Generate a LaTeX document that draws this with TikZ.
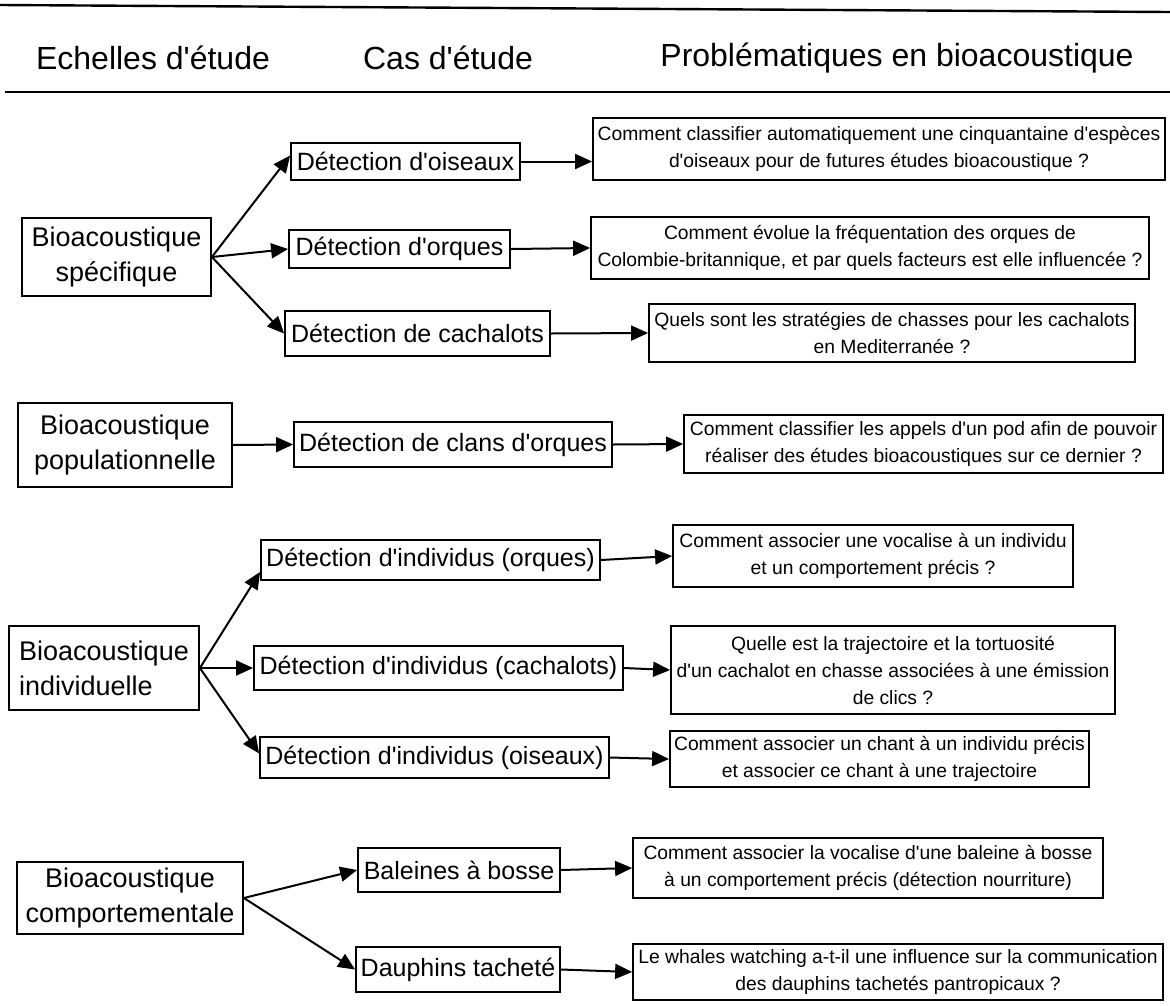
\documentclass[tikz,border=0pt]{standalone}
\usepackage{fontspec}
\newfontfamily\arialfont{Liberation Sans}
\usetikzlibrary{arrows.meta}

\tikzset{
  titre/.style={font=\arialfont\fontsize{32}{38}\selectfont, inner sep=0pt},
  echelle/.style={draw, line width=1.8pt, align=center, inner sep=0pt,
                  font=\arialfont\fontsize{27}{35}\selectfont},
  cas/.style={draw, line width=1.8pt, align=center, inner sep=0pt,
              font=\arialfont\fontsize{25}{30}\selectfont},
  question/.style={draw, line width=1.8pt, align=center, inner sep=0pt,
                   font=\arialfont\fontsize{19.3}{27}\selectfont},
  fleche/.style={-{Triangle[length=17pt,width=15pt]}, line width=2pt},
}

\begin{document}
\begin{tikzpicture}[x=1pt, y=-1pt]
    \useasboundingbox (0,0) rectangle (1170,1005);

    \draw[line width=2.4pt] (0,5) -- (1170,12);
    \draw[line width=2.4pt] (5,92) -- (1170,92);
    \node[titre] (tEchelles) at (153,58) {Echelles d'étude};
    \node[titre] (tCas) at (448,58) {Cas d'étude};
    \node[titre] (tProblemes) at (897,58) {Problématiques en bioacoustique};

    \node[echelle, minimum width=189, minimum height=78] (specifique) at (116.5,257)
        {Bioacoustique\\spécifique};
    \node[cas, minimum width=229, minimum height=37] (oiseaux) at (405.5,161.5)
        {Détection d'oiseaux};
    \node[cas, minimum width=221, minimum height=38] (orques) at (399.5,249)
        {Détection d'orques};
    \node[cas, minimum width=265, minimum height=45] (cachalots) at (417.5,333.5)
        {Détection de cachalots};
    \node[question, minimum width=572, minimum height=62] (qOiseaux) at (879,149)
        {Comment classifier automatiquement une cinquantaine d'espèces\\d'oiseaux pour de futures études bioacoustique ?};
    \node[question, minimum width=558, minimum height=62] (qOrques) at (870,248)
        {Comment évolue la fréquentation des orques de\\Colombie-britannique, et par quels facteurs est elle influencée ?};
    \node[question, minimum width=486, minimum height=58] (qCachalots) at (892,333)
        {Quels sont les stratégies de chasses pour les cachalots\\en Mediterranée ?};

    \node[echelle, minimum width=214, minimum height=84] (populationnelle) at (125,445)
        {Bioacoustique\\populationnelle};
    \node[cas, minimum width=318, minimum height=45] (clans) at (453,444.5)
        {Détection de clans d'orques};
    \node[question, minimum width=479, minimum height=58] (qClans) at (923.5,444)
        {Comment classifier les appels d'un pod afin de pouvoir\\réaliser des études bioacoustiques sur ce dernier ?};

    \node[echelle, align=left, minimum width=190, minimum height=84] (individuelle) at (104,668)
        {Bioacoustique\\individuelle};
    \node[cas, minimum width=339, minimum height=40] (indOrques) at (430.5,560)
        {Détection d'individus (orques)};
    \node[cas, minimum width=369, minimum height=44] (indCachalots) at (438.5,668)
        {Détection d'individus (cachalots)};
    \node[cas, minimum width=349, minimum height=41] (indOiseaux) at (434.5,757.5)
        {Détection d'individus (oiseaux)};
    \node[question, minimum width=400, minimum height=62] (qIndOrques) at (873,556)
        {Comment associer une vocalise à un individu\\et un comportement précis ?};
    \node[question, minimum width=444, minimum height=88] (qIndCachalots) at (893,670)
        {Quelle est la trajectoire et la tortuosité\\d'un cachalot en chasse associées à une émission\\de clics ?};
    \node[question, minimum width=419, minimum height=56] (qIndOiseaux) at (879.5,759)
        {Comment associer un chant à un individu précis\\et associer ce chant à une trajectoire};

    \node[echelle, minimum width=226, minimum height=72] (comportementale) at (130,898)
        {Bioacoustique\\comportementale};
    \node[cas, minimum width=202, minimum height=44] (baleines) at (459,870)
        {Baleines à bosse};
    \node[cas, minimum width=204, minimum height=45] (dauphins) at (458,969.5)
        {Dauphins tacheté};
    \node[question, minimum width=470, minimum height=60] (qBaleines) at (868,868)
        {Comment associer la vocalise d'une baleine à bosse\\à un comportement précis (détection nourriture)};
    \node[question, minimum width=530, minimum height=56] (qDauphins) at (898,972)
        {Le whales watching a-t-il une influence sur la communication\\des dauphins tachetés pantropicaux ?};

    \draw[fleche] (specifique.east) -- ([yshift=6pt]oiseaux.west);
    \draw[fleche] (specifique.east) -- (orques.west);
    \draw[fleche] (specifique.east) -- (cachalots.west);
    \draw[fleche] (oiseaux.east) -- (qOiseaux.west |- oiseaux.east);
    \draw[fleche] (orques.east) -- (qOrques.west);
    \draw[fleche] (cachalots.east) -- (qCachalots.west);

    \draw[fleche] (populationnelle.east) -- (clans.west);
    \draw[fleche] (clans.east) -- (qClans.west);

    \draw[fleche] (individuelle.east) -- ([yshift=-12pt]indOrques.west);
    \draw[fleche] (individuelle.east) -- (indCachalots.west);
    \draw[fleche] (individuelle.east) -- ([yshift=4pt]indOiseaux.west);
    \draw[fleche] (indOrques.east) -- (qIndOrques.west);
    \draw[fleche] (indCachalots.east) -- (qIndCachalots.west);
    \draw[fleche] (indOiseaux.east) -- (qIndOiseaux.west);

    \draw[fleche] (comportementale.east) -- (baleines.west);
    \draw[fleche] (comportementale.east) -- (dauphins.west);
    \draw[fleche] (baleines.east) -- (qBaleines.west);
    \draw[fleche] (dauphins.east) -- (qDauphins.west);
\end{tikzpicture}
\end{document}
